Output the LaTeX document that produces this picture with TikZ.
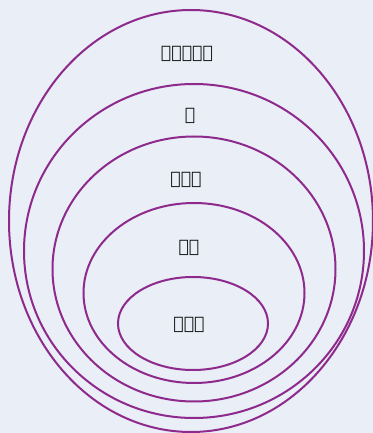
\documentclass[tikz,border=0pt]{standalone}
\usepackage{fontspec}
\usepackage{tikz}
\newfontfamily\ethfont{DejaVu Sans}
\definecolor{Paper}{HTML}{E9EEF7}
\definecolor{Plum}{HTML}{8E2A8C}
\definecolor{Ink}{HTML}{111111}

\begin{document}
\begin{tikzpicture}[x=0.75pt,y=0.75pt]
    \fill[Paper] (0,0) rectangle (373,433);
    \useasboundingbox (0,0) rectangle (373,433);

    \draw[Plum,line width=1.5pt] (191,212) ellipse (182 and 211);
    \draw[Plum,line width=1.5pt] (194,182) ellipse (170 and 167);
    \draw[Plum,line width=1.5pt] (194,164) ellipse (141.5 and 132.5);
    \draw[Plum,line width=1.5pt] (194,140) ellipse (110.5 and 90);
    \draw[Plum,line width=1.5pt] (193,109.5) ellipse (75 and 46.5);

    \node[text=Ink,font=\ethfont\fontsize{13}{15}\selectfont\bfseries] (lvlOrg) at (187,379) {ህይወታዊ};
    \node[text=Ink,font=\ethfont\fontsize{13}{15}\selectfont\bfseries] (lvlSys) at (190,317) {መ};
    \node[text=Ink,font=\ethfont\fontsize{13}{15}\selectfont\bfseries] (lvlOrgan) at (186,253) {አካል};
    \node[text=Ink,font=\ethfont\fontsize{13}{15}\selectfont\bfseries] (lvlTissue) at (189,185) {ቲሹ};
    \node[text=Ink,font=\ethfont\fontsize{13}{15}\selectfont\bfseries] (lvlCell) at (189,108) {ዋህዮ};
  \end{tikzpicture}
\end{document}
